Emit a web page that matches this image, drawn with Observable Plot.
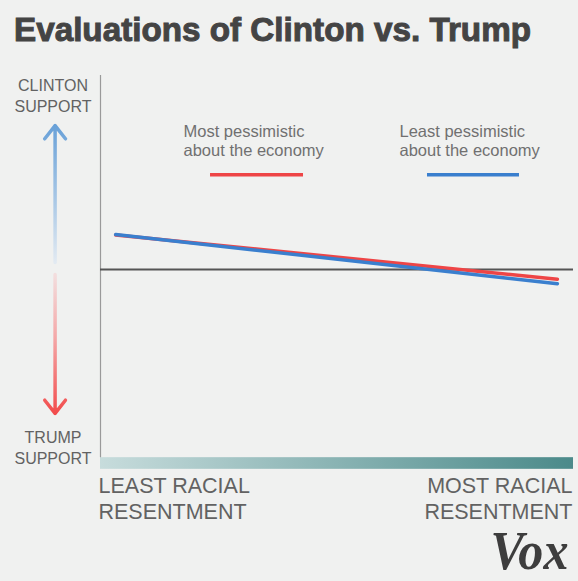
<!DOCTYPE html>
<html><head><meta charset="utf-8">
<script src="https://cdn.jsdelivr.net/npm/d3@7"></script>
<script src="https://cdn.jsdelivr.net/npm/@observablehq/plot@0.6"></script>
<style>
html,body{margin:0;padding:0;background:#f0f1f0;}
#wrap{position:relative;width:578px;height:581px;overflow:hidden;background:#f0f1f0;}
#title{position:absolute;left:14px;top:13px;margin:0;font:bold 33px/33px "Liberation Sans",Arial,sans-serif;color:#444;white-space:nowrap;transform-origin:0 0;-webkit-text-stroke:1px #444;}
#chart{position:absolute;left:0;top:56px;}
</style></head><body>
<div id="wrap"><h1 id="title"></h1><div id="chart"></div></div>
<script>
// ---- data ----
const title = "Evaluations of Clinton vs. Trump";
const seriesNames = ["Most pessimistic\nabout the economy", "Least pessimistic\nabout the economy"];
const seriesColors = ["#ee4546", "#3a7fce"];
const resentment = [0.032, 0.966];          // racial resentment, 0 = least, 1 = most
const mostPessimistic = [0.178, -0.050];    // + = Clinton support, - = Trump support
const leastPessimistic = [0.180, -0.073];
const yAxisLabels = ["CLINTON\nSUPPORT", "TRUMP\nSUPPORT"];
const xAxisLabels = ["LEAST RACIAL\nRESENTMENT", "MOST RACIAL\nRESENTMENT"];
const brand = "Vox";

const rows = [];
[mostPessimistic, leastPessimistic].forEach((vals, s) =>
  vals.forEach((v, i) => rows.push({series: seriesNames[s], x: resentment[i], y: v})));

document.getElementById("title").textContent = title;

const sans = "Liberation Sans, Arial, sans-serif";
const labelColor = "#626262";

const plot = Plot.plot({
  width: 578, height: 525,
  marginTop: 19, marginLeft: 100, marginRight: 5, marginBottom: 118,
  x: {domain: [0, 1], axis: null},
  y: {domain: [-1, 1], axis: null},
  color: {domain: seriesNames, range: seriesColors},
  style: {background: "transparent", overflow: "visible", fontFamily: sans},
  marks: [
    // racial resentment gradient bar (x axis)
    Plot.rect([0], {x1: 0, x2: 1, y1: -0.97, y2: -1.03, fill: "url(#tealGrad)"}),
    // vertical axis
    Plot.ruleX([0], {y1: -0.97, y2: 1, stroke: "#9a9a9a", strokeWidth: 1.2}),
    // zero line
    Plot.ruleY([0], {x1: 0, x2: 1, stroke: "#555", strokeWidth: 2}),
    // series lines
    Plot.line(rows, {x: "x", y: "y", z: "series", stroke: "series", strokeWidth: 3.5}),
    // support arrows
    Plot.arrow([0], {x1: -0.096, x2: -0.096, y1: 0.036, y2: 0.742, stroke: "url(#blueFade)", strokeWidth: 3.5, headLength: 7.2, headAngle: 76}),
    Plot.arrow([0], {x1: -0.096, x2: -0.096, y1: -0.026, y2: -0.742, stroke: "url(#redFade)", strokeWidth: 3.5, headLength: 7.2, headAngle: 76}),
    // y labels
    Plot.text([yAxisLabels[0]], {frameAnchor: "top-left", dx: -47.5, dy: 36, textAnchor: "middle", lineAnchor: "bottom", lineHeight: 1.31, fontSize: 16, fill: labelColor}),
    Plot.text([yAxisLabels[1]], {frameAnchor: "bottom-left", dx: -47.5, dy: 0, textAnchor: "middle", lineAnchor: "bottom", lineHeight: 1.31, fontSize: 16, fill: labelColor}),
    // x labels
    Plot.text([xAxisLabels[0]], {frameAnchor: "bottom-left", dx: -2, dy: 55, textAnchor: "start", lineAnchor: "bottom", lineHeight: 1.21, fontSize: 21.5, fill: labelColor}),
    Plot.text([xAxisLabels[1]], {frameAnchor: "bottom-right", dx: -1, dy: 55, textAnchor: "end", lineAnchor: "bottom", lineHeight: 1.21, fontSize: 21.5, fill: labelColor}),
    // legend
    Plot.text(seriesNames, {x: (d, i) => [0.1755, 0.6321][i], y: 0.5825, textAnchor: "start", lineAnchor: "bottom", lineHeight: 1.21, fontSize: 16.5, fill: "#707070"}),
    Plot.ruleY(seriesNames, {y: 0.488, x1: (d, i) => [0.2326, 0.6913][i], x2: (d, i) => [0.4292, 0.8858][i], stroke: d => d, strokeWidth: 3.5}),
    // brand
    Plot.text([brand], {frameAnchor: "bottom-right", dx: -5, dy: 105, textAnchor: "end", lineAnchor: "bottom", fontSize: 54, fontFamily: "Liberation Serif, serif", fontWeight: "bold", fontStyle: "italic", fill: "#3d3d3d"})
  ]
});

d3.select(plot).insert("defs", ":first-child").html(`
  <linearGradient id="tealGrad" x1="0" y1="0" x2="1" y2="0">
    <stop offset="0" stop-color="#c7dcdc"/><stop offset="1" stop-color="#4b8a8a"/>
  </linearGradient>
  <linearGradient id="blueFade" x1="0" y1="0" x2="0" y2="1">
    <stop offset="0" stop-color="#69a1d8"/><stop offset="0.55" stop-color="#a9c8e6"/><stop offset="1" stop-color="#e2eaf2"/>
  </linearGradient>
  <linearGradient id="redFade" x1="0" y1="0" x2="0" y2="1">
    <stop offset="0" stop-color="#f3dede"/><stop offset="0.45" stop-color="#f4a8a8"/><stop offset="1" stop-color="#f24c4c"/>
  </linearGradient>`);

document.getElementById("chart").appendChild(plot);

d3.select(plot).selectAll("text").filter(function() { return this.textContent === brand; })
  .attr("textLength", 78).attr("lengthAdjust", "spacingAndGlyphs");

const t = document.getElementById("title");
const w = t.getBoundingClientRect().width;
t.style.transform = `scaleX(${517 / w})`;
</script>
</body></html>
